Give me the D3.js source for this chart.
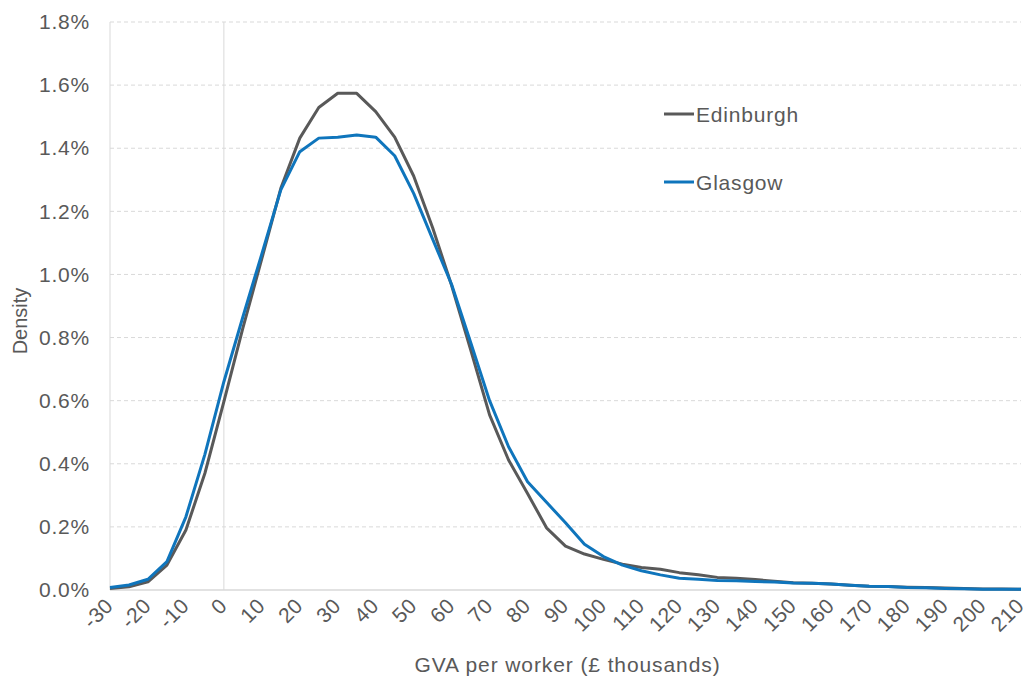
<!DOCTYPE html>
<html>
<head>
<meta charset="utf-8">
<script src="https://cdn.jsdelivr.net/npm/d3@7"></script>
<style>
  html, body { margin: 0; padding: 0; background: #fff; }
  text { font-family: "Liberation Sans", Arial, sans-serif; fill: #595959; }
</style>
</head>
<body>
<svg id="chart" width="1026" height="682"></svg>
<script>
const categories = [-30,-25,-20,-15,-10,-5,0,5,10,15,20,25,30,35,40,45,50,55,60,65,70,75,80,85,90,95,100,105,110,115,120,125,130,135,140,145,150,155,160,165,170,175,180,185,190,195,200,205,210];
const edinburgh = [0.005,0.010,0.026,0.079,0.190,0.370,0.597,0.830,1.050,1.273,1.432,1.529,1.574,1.574,1.516,1.435,1.312,1.148,0.965,0.762,0.555,0.412,0.306,0.197,0.139,0.114,0.097,0.082,0.071,0.066,0.055,0.048,0.040,0.037,0.033,0.028,0.023,0.021,0.019,0.015,0.012,0.011,0.009,0.008,0.006,0.005,0.003,0.003,0.002];
const glasgow = [0.008,0.016,0.034,0.090,0.232,0.430,0.660,0.865,1.065,1.268,1.389,1.432,1.435,1.442,1.435,1.376,1.257,1.112,0.968,0.785,0.600,0.454,0.343,0.278,0.213,0.145,0.106,0.079,0.061,0.048,0.037,0.034,0.030,0.029,0.027,0.025,0.022,0.021,0.019,0.015,0.012,0.011,0.008,0.007,0.005,0.004,0.002,0.002,0.002];
const yTicks = [0,0.2,0.4,0.6,0.8,1.0,1.2,1.4,1.6,1.8];
const xTickLabels = [-30,-20,-10,0,10,20,30,40,50,60,70,80,90,100,110,120,130,140,150,160,170,180,190,200,210];
const seriesNames = ["Edinburgh","Glasgow"];
const seriesColors = ["#595959","#0F75BC"];

const svg = d3.select("#chart");
const pLeft = 110, pRight = 1021, pTop = 22, pBottom = 590;

const x = d3.scalePoint().domain(categories).range([pLeft, pRight]);
const y = d3.scaleLinear().domain([0, 1.8]).range([pBottom, pTop]);

// gridlines
svg.append("g").selectAll("line").data(yTicks.filter(d => d > 0)).join("line")
  .attr("x1", pLeft).attr("x2", pRight)
  .attr("y1", d => y(d)).attr("y2", d => y(d))
  .attr("stroke", "#d9d9d9").attr("stroke-width", 1)
  .attr("stroke-dasharray", "4,3");

// left axis line and zero line
svg.append("line").attr("x1", pLeft).attr("x2", pLeft).attr("y1", pTop).attr("y2", pBottom)
  .attr("stroke", "#d9d9d9").attr("stroke-width", 1);
svg.append("line").attr("x1", x(0)).attr("x2", x(0)).attr("y1", pTop).attr("y2", pBottom)
  .attr("stroke", "#d9d9d9").attr("stroke-width", 1);
svg.append("line").attr("x1", pLeft).attr("x2", pRight).attr("y1", pBottom).attr("y2", pBottom)
  .attr("stroke", "#d9d9d9").attr("stroke-width", 1.5);

// y axis labels
const yAxis = d3.axisLeft(y).tickValues(yTicks).tickFormat(d => d.toFixed(1) + "%").tickSize(0).tickPadding(20);
const ya = svg.append("g").attr("transform", `translate(${pLeft},0)`).call(yAxis);
ya.select(".domain").remove();
ya.selectAll("text").attr("font-size", 21).attr("fill", "#595959")
  .style("font-family", "Liberation Sans, Arial, sans-serif").style("letter-spacing", "0.8px");

// x axis labels
const xAxis = d3.axisBottom(x).tickValues(xTickLabels).tickSize(0).tickPadding(0);
const xa = svg.append("g").attr("transform", `translate(0,${pBottom})`).call(xAxis);
xa.select(".domain").remove();
xa.selectAll("text")
  .attr("font-size", 21).attr("fill", "#595959")
  .style("font-family", "Liberation Sans, Arial, sans-serif").style("letter-spacing", "0.6px")
  .attr("text-anchor", "end").attr("dy", "0")
  .attr("transform", "translate(4,17) rotate(-45)")
  .attr("y", 0).attr("x", 0);

// axis titles
svg.append("text").attr("x", (pLeft + pRight) / 2 + 2).attr("y", 672)
  .attr("text-anchor", "middle").attr("font-size", 21).style("letter-spacing", "0.9px")
  .text("GVA per worker (£ thousands)");
svg.append("text").attr("transform", "translate(27,321) rotate(-90)")
  .attr("text-anchor", "middle").attr("font-size", 20).text("Density");

// lines
const line = d3.line().x((d, i) => x(categories[i])).y(d => y(d));
[edinburgh, glasgow].forEach((s, k) => {
  svg.append("path").datum(s).attr("d", line)
    .attr("fill", "none").attr("stroke", seriesColors[k]).attr("stroke-width", 3)
    .attr("stroke-linejoin", "round");
});

// legend
const legY = [114, 182];
seriesNames.forEach((n, k) => {
  svg.append("line").attr("x1", 664).attr("x2", 694).attr("y1", legY[k]).attr("y2", legY[k])
    .attr("stroke", seriesColors[k]).attr("stroke-width", 3);
  svg.append("text").attr("x", 696).attr("y", legY[k] + 7.5).attr("font-size", 21)
    .style("letter-spacing", "0.8px").text(n);
});
</script>
</body>
</html>
